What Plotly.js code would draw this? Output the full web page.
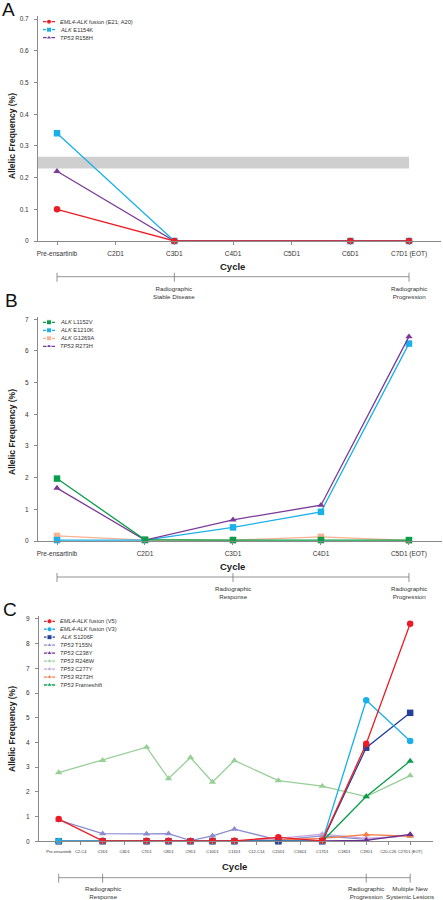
<!DOCTYPE html>
<html>
<head>
<meta charset="utf-8">
<script src="https://cdn.plot.ly/plotly-3.0.1.min.js"></script>
<style>html,body{margin:0;padding:0;background:#fff;}#chart{width:443px;height:900px;}</style>
</head>
<body>
<div id="chart"></div>
<script>
// ---------------- DATA ----------------
// Panel A
const cyclesA = ['Pre-ensartinib','C2D1','C3D1','C4D1','C5D1','C6D1','C7D1 (EOT)'];
const sampledA = ['Pre-ensartinib','C3D1','C6D1','C7D1 (EOT)'];
const eml4FusionA = [0.10, 0, 0, 0];
const alkE1154K = [0.34, 0, 0, 0];
const tp53R158H = [0.22, 0, 0, 0];
const bandA = [0.229, 0.266];
const labelsA = ['<i>EML4-ALK</i> fusion (E21; A20)', '<i>ALK</i> E1154K', '<i>TP53</i> R158H'];
const eventsA = [['Pre-ensartinib',''], ['C3D1','Radiographic<br>Stable Disease'], ['C7D1 (EOT)','Radiographic<br>Progression']];

// Panel B
const cyclesB = ['Pre-ensartinib','C2D1','C3D1','C4D1','C5D1 (EOT)'];
const alkL1152V = [1.97, 0.04, 0.03, 0.03, 0.03];
const alkE1210K = [0.03, 0.03, 0.43, 0.92, 6.23];
const alkG1269A = [0.16, 0.03, 0.03, 0.13, 0.02];
const tp53R273H_B = [1.67, 0.03, 0.67, 1.13, 6.45];
const labelsB = ['<i>ALK</i> L1152V', '<i>ALK</i> E1210K', '<i>ALK</i> G1269A', '<i>TP53</i> R273H'];
const eventsB = [['Pre-ensartinib',''], ['C3D1','Radiographic<br>Response'], ['C5D1 (EOT)','Radiographic<br>Progression']];

// Panel C
const cyclesC = ['Pre-ensartinib','C2-C4','C5D1','C6D1','C7D1','C8D1','C9D1','C10D1','C11D1','C12-C14','C15D1','C16D1','C17D1','C18D1','C19D1','C20-C26','C27D1 (EOT)'];
const sampledC = ['Pre-ensartinib','C5D1','C7D1','C8D1','C9D1','C10D1','C11D1','C15D1','C17D1','C19D1','C27D1 (EOT)'];
const eml4V5 = [0.90, 0.02, 0.02, 0.02, 0.01, 0.02, 0.02, 0.16, 0.02, 3.95, 8.81];
const eml4V3 = [0.01, 0.01, 0.01, 0.01, 0.01, 0.01, 0.01, -0.01, 0.0, 5.71, 4.06];
const alkS1206F = [0, 0, 0, 0, 0, 0, 0, 0, 0, 3.79, 5.20];
const tp53T155N = [0.86, 0.31, 0.30, 0.31, 0.03, 0.22, 0.49, 0.05, 0.22, 0.08, 0.24];
const tp53C238Y = [0, 0, 0, 0, 0, 0, 0, 0, 0.02, 0.04, 0.28];
const tp53R248W = [2.78, 3.28, 3.81, 2.54, 3.39, 2.40, 3.27, 2.46, 2.23, 1.81, 2.66];
const tp53C277Y = [0, 0, 0, 0, 0, 0, 0, 0.12, 0.29, 0.12, 0.22];
const tp53R273H_C = [0, 0, 0, 0, 0, 0, 0, 0.05, 0.12, 0.27, 0.21];
const tp53Frameshift = [0, 0, 0, 0, 0, 0, 0, 0, 0, 1.81, 3.25];
const labelsC = ['<i>EML4-ALK</i> fusion (V5)', '<i>EML4-ALK</i> fusion (V3)', '<i>ALK</i> S1206F', '<i>TP53</i> T155N', '<i>TP53</i> C238Y', '<i>TP53</i> R248W', '<i>TP53</i> C277Y', '<i>TP53</i> R273H', '<i>TP53</i> Frameshift'];
const eventsC = [['Pre-ensartinib',''], ['C5D1','Radiographic<br>Response'], ['C19D1','Radiographic<br>Progression'], ['C27D1 (EOT)','Multiple New<br>Systemic Lesions']];

// ---------------- STYLE ----------------
const F = 'Liberation Sans, Arial, Helvetica, sans-serif';
const RED = '#ed1c24', CYAN = '#1ab0ea', PURPLE = '#7b3a98', GREEN = '#0a9e4a', PEACH = '#f9b290',
      NAVY = '#25409a', LAVENDER = '#8b8dcf', DPURPLE = '#6a2d90', LGREEN = '#97cf97', LVIOLET = '#c4a2da', ORANGE = '#f47a42';
const AX = '#8a8a8a', TXT = '#333333';
const W = 443, H = 900;
const px = p => p / W;
const py = p => 1 - p / H;

const seriesA = [
  {y: tp53R158H, c: PURPLE, s: 'triangle-up', li: 2},
  {y: alkE1154K, c: CYAN, s: 'square', li: 1},
  {y: eml4FusionA, c: RED, s: 'circle', li: 0}
];
const seriesB = [
  {y: alkG1269A, c: PEACH, s: 'square', li: 2},
  {y: alkE1210K, c: CYAN, s: 'square', li: 1},
  {y: tp53R273H_B, c: PURPLE, s: 'triangle-up', li: 3},
  {y: alkL1152V, c: GREEN, s: 'square', li: 0}
];
const seriesC = [
  {y: tp53R248W, c: LGREEN, s: 'triangle-up', li: 5},
  {y: tp53T155N, c: LAVENDER, s: 'triangle-up', li: 3},
  {y: tp53C277Y, c: LVIOLET, s: 'triangle-up', li: 6},
  {y: tp53R273H_C, c: ORANGE, s: 'triangle-up', li: 7},
  {y: tp53C238Y, c: DPURPLE, s: 'triangle-up', li: 4},
  {y: tp53Frameshift, c: GREEN, s: 'triangle-up', li: 8},
  {y: alkS1206F, c: NAVY, s: 'square', li: 2},
  {y: eml4V3, c: CYAN, s: 'circle', li: 1},
  {y: eml4V5, c: RED, s: 'circle', li: 0}
];

const traces = [];
const annotations = [];
const shapes = [];

function addPanel(series, xs, labels, xa, ya, lxa, lya) {
  series.forEach(sr => {
    traces.push({
      type: 'scatter', mode: 'lines+markers', x: xs, y: sr.y, xaxis: xa, yaxis: ya,
      line: {color: sr.c, width: 1.3},
      marker: {color: sr.c, symbol: sr.s, size: 6.5},
      cliponaxis: false, showlegend: false, hoverinfo: 'skip'
    });
  });
  const ordered = series.slice().sort((a, b) => a.li - b.li);
  ordered.forEach(sr => {
    traces.push({
      type: 'scatter', mode: 'lines+markers', x: [0, 0.5, 1], y: [sr.li, sr.li, sr.li],
      xaxis: lxa, yaxis: lya,
      line: {color: sr.c, width: 1.3},
      marker: {color: sr.c, symbol: sr.s, size: [0, 5, 0], opacity: [0, 1, 0]},
      cliponaxis: false, showlegend: false, hoverinfo: 'skip'
    });
    annotations.push({
      xref: lxa, yref: lya, x: 1, y: sr.li, xanchor: 'left', yanchor: 'middle', xshift: 2.5,
      text: labels[sr.li], showarrow: false, font: {family: F, size: 5.7, color: TXT}
    });
  });
}

addPanel(seriesA, sampledA, labelsA, 'x', 'y', 'x4', 'y4');
addPanel(seriesB, cyclesB, labelsB, 'x2', 'y2', 'x5', 'y5');
addPanel(seriesC, sampledC, labelsC, 'x3', 'y3', 'x6', 'y6');

shapes.push({type: 'rect', xref: 'x', yref: 'y', x0: -0.5, x1: cyclesA.length - 1, y0: bandA[0], y1: bandA[1],
  fillcolor: '#cfcfcf', line: {width: 0}, layer: 'below'});

function addEvents(events, cats, xref, yLinePx, yTextPx) {
  const idx = events.map(e => cats.indexOf(e[0]));
  shapes.push({type: 'line', xref: xref, yref: 'paper', x0: idx[0], x1: idx[idx.length - 1], y0: py(yLinePx), y1: py(yLinePx),
    line: {color: '#777', width: 0.8}});
  idx.forEach((i, k) => {
    shapes.push({type: 'line', xref: xref, yref: 'paper', x0: i, x1: i, y0: py(yLinePx - 4), y1: py(yLinePx + 5),
      line: {color: '#777', width: 0.8}});
    if (events[k][1]) {
      annotations.push({xref: xref, yref: 'paper', x: i, y: py(yTextPx), xanchor: 'center', yanchor: 'middle',
        text: events[k][1], showarrow: false, font: {family: F, size: 6.2, color: TXT}});
    }
  });
}
addEvents(eventsA, cyclesA, 'x', 276.7, 292);
addEvents(eventsB, cyclesB, 'x2', 577, 592);
addEvents(eventsC, cyclesC, 'x3', 877.7, 892);

function txt(x, y, t, size, bold, angle, anchor) {
  annotations.push({xref: 'paper', yref: 'paper', x: px(x), y: py(y), xanchor: anchor || 'center', yanchor: 'middle',
    text: bold ? '<b>' + t + '</b>' : t, textangle: angle || 0, showarrow: false,
    font: {family: F, size: size, color: bold ? '#222' : '#111'}});
}
txt(0, 10, 'A', 19, false, 0, 'left');
txt(3, 300.5, 'B', 19, false, 0, 'left');
txt(1, 609, 'C', 19, false, 0, 'left');
txt(233, 266, 'Cycle', 9.5, true);
txt(233, 566, 'Cycle', 9.5, true);
txt(234, 866, 'Cycle', 9.5, true);
txt(12, 136, 'Allelic Frequency (%)', 8.5, true, -90);
txt(12, 432, 'Allelic Frequency (%)', 8.5, true, -90);
txt(12, 729, 'Allelic Frequency (%)', 8.5, true, -90);

function xAxis(dom, range, cats, fs, y) {
  return {domain: dom, anchor: y, type: 'category', categoryorder: 'array', categoryarray: cats, range: range,
    showline: true, linecolor: AX, linewidth: 1, ticks: 'outside', ticklen: 3, tickcolor: AX, tickwidth: 1,
    tickfont: {family: F, size: fs, color: TXT}, showgrid: false, zeroline: false, fixedrange: true,
    tickangle: 0, ticklabelstandoff: 3};
}
function yAxis(dom, range, dtick, x) {
  return {domain: dom, anchor: x, range: range, dtick: dtick, tick0: 0,
    showline: true, linecolor: AX, linewidth: 1, ticks: 'outside', ticklen: 3, tickcolor: AX, tickwidth: 1,
    tickfont: {family: F, size: 6.5, color: TXT}, showgrid: false, zeroline: false, fixedrange: true,
    ticklabelstandoff: 4};
}
function hid(dom, range, anchor) {
  return {domain: dom, range: range, anchor: anchor, visible: false, fixedrange: true, showgrid: false, zeroline: false};
}

const layout = {
  width: W, height: H, margin: {l: 0, r: 0, t: 0, b: 0}, paper_bgcolor: '#fff', plot_bgcolor: 'rgba(0,0,0,0)',
  showlegend: false, font: {family: F},
  xaxis: xAxis([px(38), px(441)], [-0.324, 6.545], cyclesA, 6.5, 'y'),
  yaxis: yAxis([py(241), py(16)], [0, 0.71], 0.1, 'x'),
  xaxis2: xAxis([px(38), px(441.5)], [-0.216, 4.37], cyclesB, 6.5, 'y2'),
  yaxis2: yAxis([py(541), py(317)], [0, 7.07], 1, 'x2'),
  xaxis3: xAxis([px(39), px(433)], [-0.897, 17.04], cyclesC, 4.0, 'y3'),
  yaxis3: yAxis([py(841.3), py(616)], [0, 9.12], 1, 'x3'),
  xaxis4: hid([px(43), px(55)], [0, 1], 'y4'),
  yaxis4: hid([py(41.7), py(17.7)], [labelsA.length - 0.5, -0.5], 'x4'),
  xaxis5: hid([px(43), px(55)], [0, 1], 'y5'),
  yaxis5: hid([py(350.3), py(318.3)], [labelsB.length - 0.5, -0.5], 'x5'),
  xaxis6: hid([px(44), px(55)], [0, 1], 'y6'),
  yaxis6: hid([py(689), py(617.3)], [labelsC.length - 0.5, -0.5], 'x6'),
  shapes: shapes, annotations: annotations
};

Plotly.newPlot('chart', traces, layout, {staticPlot: true, displayModeBar: false});
</script>
</body>
</html>
